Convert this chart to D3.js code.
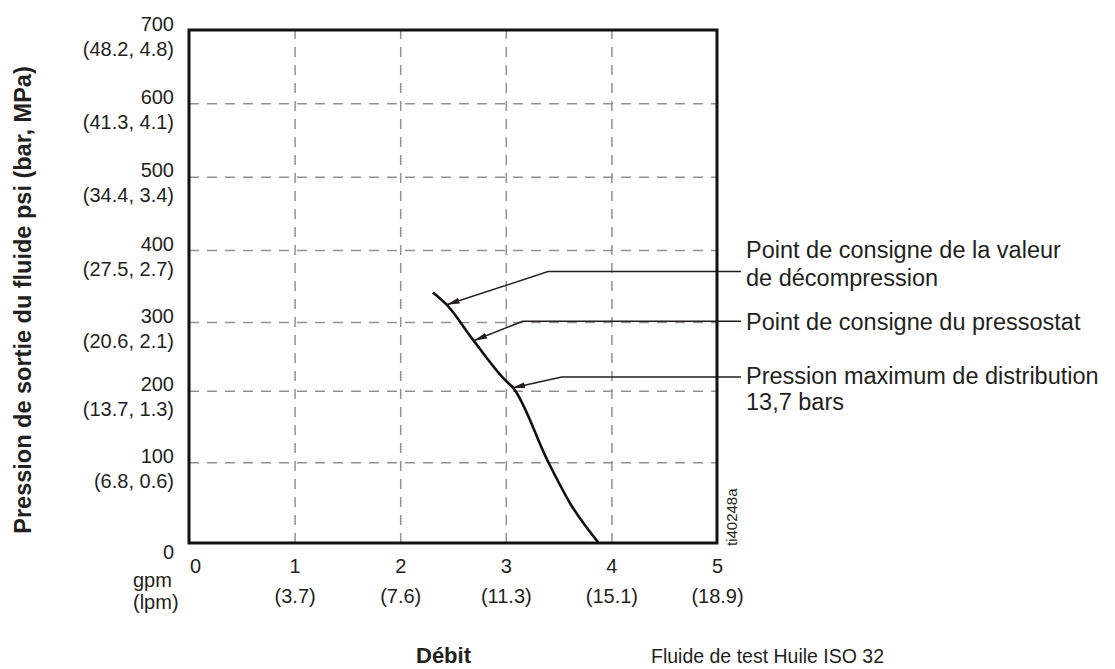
<!DOCTYPE html>
<html>
<head>
<meta charset="utf-8">
<script src="https://cdn.jsdelivr.net/npm/d3@7"></script>
<style>
    body { margin: 0; background: #fff; }
    svg text { font-family: "Liberation Sans", Arial, Helvetica, sans-serif; fill: #231f20; }
</style>
</head>
<body>
<svg id="chart" width="1115" height="669"></svg>
<script>
    // pressure axis (psi) and the bar / MPa equivalents
    const psiTicks = [0, 100, 200, 300, 400, 500, 600, 700];
    const barMpaLabels = ['', '(6.8, 0.6)', '(13.7, 1.3)', '(20.6, 2.1)', '(27.5, 2.7)', '(34.4, 3.4)', '(41.3, 4.1)', '(48.2, 4.8)'];

    // flow axis (gpm) and the lpm equivalents
    const gpmTicks = [0, 1, 2, 3, 4, 5];
    const lpmLabels = ['', '(3.7)', '(7.6)', '(11.3)', '(15.1)', '(18.9)'];

    // performance curve
    const curveGpm = [2.31, 2.44, 2.69, 2.99, 3.07, 3.40, 3.61, 3.88];
    const curvePsi = [341, 324, 274, 216, 204, 101, 49, 0];

    // callouts: text lines, arrow tip on the curve, bend of the leader
    const calloutText = [
        ['Point de consigne de la valeur', 'de décompression'],
        ['Point de consigne du pressostat'],
        ['Pression maximum de distribution', '13,7 bars']
    ];
    const calloutTipGpm = [2.44, 2.70, 3.06];
    const calloutTipPsi = [324, 273, 204];
    const calloutBendGpm = [3.40, 3.16, 3.53];
    const calloutBendPsi = [370, 301, 220];

    const yTitle = 'Pression de sortie du fluide psi (bar, MPa)';
    const xTitle = 'Débit';
    const fluidNote = 'Fluide de test Huile ISO 32';
    const drawingRef = 'ti40248a';

    /*
        Layout
    */
    const svg = d3.select('#chart');
    const plotLeft = 189, plotRight = 717, plotTop = 30, plotBottom = 543;

    const xScale = d3.scaleLinear().domain([0, 5]).range([plotLeft, plotRight]);
    // the original grid is not evenly spaced, so the scale is piecewise
    const yScale = d3.scaleLinear()
        .domain(psiTicks)
        .range([543, 462.3, 390.7, 322, 250, 176.7, 103.3, 30]);

    const labelX = 746;
    const labelBaselines = [[258, 286], [330], [384, 410]];

    svg.append('defs')
        .append('marker')
        .attr('id', 'arrow')
        .attr('markerUnits', 'userSpaceOnUse')
        .attr('viewBox', '0 0 13 6')
        .attr('refX', 13)
        .attr('refY', 3)
        .attr('markerWidth', 13)
        .attr('markerHeight', 6)
        .attr('orient', 'auto')
        .append('path')
        .attr('d', 'M0,0 L13,3 L0,6 Z')
        .attr('fill', '#231f20');

    renderGrid();
    renderCurve();
    renderCallouts();
    renderFrame();
    renderTitles();

    function renderGrid() {
        const yAxis = d3.axisLeft(yScale)
            .tickValues(psiTicks)
            .tickSize(-(plotRight - plotLeft))
            .tickPadding(15)
            .tickFormat(d => d);

        const yG = svg.append('g')
            .attr('class', 'y-axis')
            .attr('transform', `translate(${plotLeft},0)`)
            .call(yAxis);

        const xAxis = d3.axisBottom(xScale)
            .tickValues(gpmTicks)
            .tickSize(-(plotBottom - plotTop))
            .tickPadding(30)
            .tickFormat(d => d);

        const xG = svg.append('g')
            .attr('class', 'x-axis')
            .attr('transform', `translate(0,${plotBottom})`)
            .call(xAxis);

        [yG, xG].forEach(g => {
            g.attr('font-family', null).attr('font-size', null);
            g.select('.domain').remove();
            g.selectAll('.tick line')
                .attr('stroke', '#929292')
                .attr('stroke-width', 1.5)
                .attr('stroke-dasharray', '10,8');
            g.selectAll('.tick text')
                .attr('fill', null)
                .style('font-size', '20px');
        });

        yG.selectAll('.tick line').filter(d => d === 0 || d === 700).remove();
        xG.selectAll('.tick line').filter(d => d === 0 || d === 5).remove();

        yG.selectAll('.tick text')
            .attr('dy', null)
            .attr('y', d => d === 0 ? 15 : 0)
            .each(function (d, i) {
                if (!barMpaLabels[i]) return;
                d3.select(this).append('tspan')
                    .attr('x', -15)
                    .attr('dy', 25)
                    .text(barMpaLabels[i]);
            });

        xG.selectAll('.tick text')
            .attr('dy', null)
            .attr('y', 30)
            .attr('x', d => d === 0 ? 6 : 0)
            .each(function (d, i) {
                if (!lpmLabels[i]) return;
                d3.select(this).append('tspan')
                    .attr('x', 0)
                    .attr('dy', 30)
                    .text(lpmLabels[i]);
            });

        // unit captions under the origin
        svg.append('text')
            .attr('x', 133).attr('y', 587)
            .style('font-size', '20px')
            .text('gpm');
        svg.append('text')
            .attr('x', 133).attr('y', 609)
            .style('font-size', '20px')
            .text('(lpm)');
    }

    function renderCurve() {
        const pts = curveGpm.map((g, i) => [g, curvePsi[i]]);
        const line = d3.line()
            .x(d => xScale(d[0]))
            .y(d => yScale(d[1]))
            .curve(d3.curveMonotoneX);

        svg.append('path')
            .attr('d', line(pts))
            .attr('fill', 'none')
            .attr('stroke', '#111')
            .attr('stroke-width', 2.6);
    }

    function renderCallouts() {
        calloutText.forEach((lines, i) => {
            const yBend = yScale(calloutBendPsi[i]);
            svg.append('path')
                .attr('d', `M${labelX - 5},${yBend} H${xScale(calloutBendGpm[i])} L${xScale(calloutTipGpm[i])},${yScale(calloutTipPsi[i])}`)
                .attr('fill', 'none')
                .attr('stroke', '#231f20')
                .attr('stroke-width', 1.5)
                .attr('marker-end', 'url(#arrow)');

            lines.forEach((t, j) => {
                svg.append('text')
                    .attr('x', labelX)
                    .attr('y', labelBaselines[i][j])
                    .style('font-size', '23.5px')
                    .text(t);
            });
        });
    }

    function renderFrame() {
        svg.append('rect')
            .attr('x', xScale(0))
            .attr('y', yScale(700))
            .attr('width', xScale(5) - xScale(0))
            .attr('height', yScale(0) - yScale(700))
            .attr('fill', 'none')
            .attr('stroke', '#111')
            .attr('stroke-width', 3);
    }

    function renderTitles() {
        svg.append('text')
            .attr('transform', 'translate(31,300) rotate(-90)')
            .attr('text-anchor', 'middle')
            .style('font-size', '23.5px')
            .style('font-weight', 'bold')
            .text(yTitle);

        svg.append('text')
            .attr('x', 416).attr('y', 663)
            .style('font-size', '22px')
            .style('font-weight', 'bold')
            .text(xTitle);

        svg.append('text')
            .attr('x', 651).attr('y', 663)
            .style('font-size', '19.5px')
            .text(fluidNote);

        svg.append('text')
            .attr('transform', 'translate(737,546) rotate(-90)')
            .style('font-size', '15px')
            .text(drawingRef);
    }
</script>
</body>
</html>
